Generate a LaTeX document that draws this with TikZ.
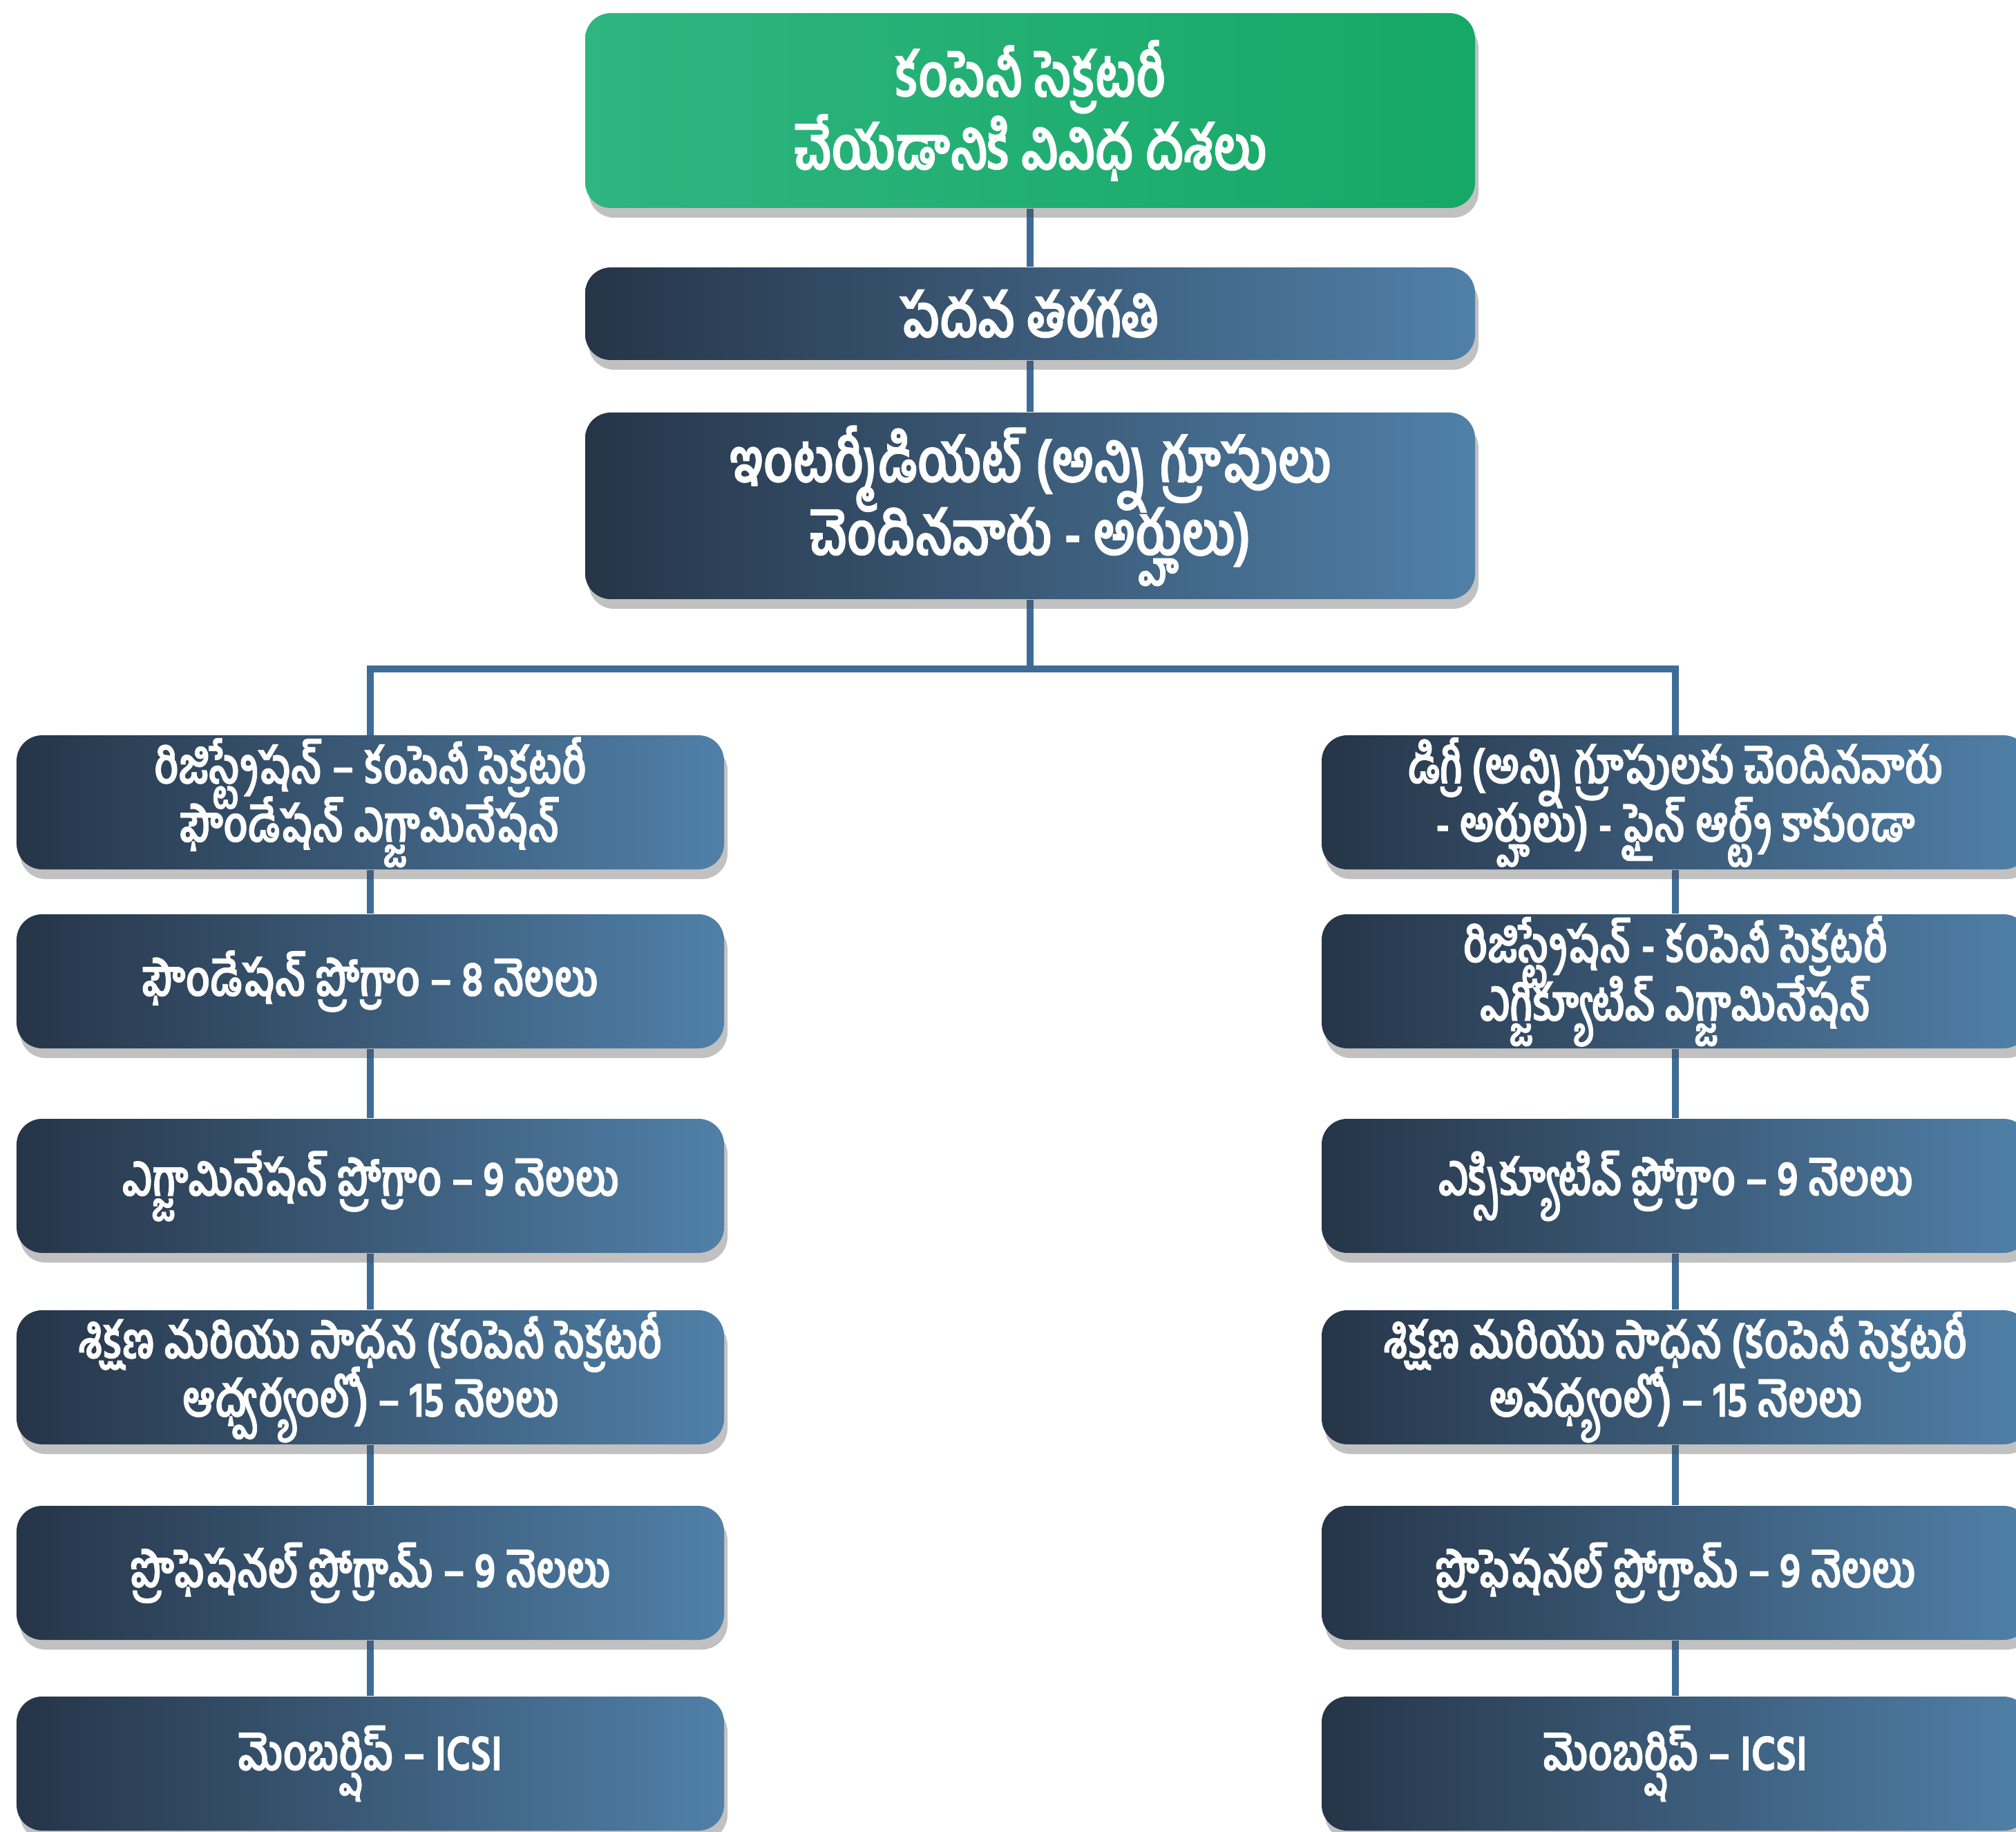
\documentclass[tikz,border=0pt]{standalone}
\usepackage{fontspec}
\newfontfamily\tefont[Script=Telugu,FakeStretch=0.8,FakeBold=1]{Hind Guntur}
\usetikzlibrary{shadows,backgrounds}

\definecolor{headL}{RGB}{46,181,128}
\definecolor{headR}{RGB}{22,168,102}
\definecolor{stageL}{RGB}{38,53,72}
\definecolor{stageR}{RGB}{80,128,168}
\definecolor{linkblue}{RGB}{62,108,150}

\newcommand\bigtext{\tefont\bfseries\fontsize{25}{30}\selectfont\lineskiplimit-100pt\relax}
\newcommand\stagetext{\tefont\bfseries\fontsize{20.5}{24}\selectfont\lineskiplimit-100pt\relax}

\tikzset{
	box/.style={rectangle, rounded corners=0.37cm, text=white, align=center, inner sep=0pt,
		drop shadow={shadow xshift=0.05cm, shadow yshift=-0.14cm, opacity=0.35, fill=black!70}},
	headbox/.style={box, left color=headL, right color=headR, minimum width=12.88cm, font=\bigtext},
	midbox/.style={box, left color=stageL, right color=stageR, minimum width=12.88cm, font=\bigtext},
	stage/.style={box, left color=stageL, right color=stageR, minimum width=10.24cm, minimum height=1.94cm,
		font=\stagetext},
	link/.style={draw=linkblue, line width=2.8pt},
}

\begin{document}
\begin{tikzpicture}
	\useasboundingbox (0,0) rectangle (29.18,-26.51);
	\clip (0,0) rectangle (29.18,-26.51);
	%top of the chart
	\node[headbox, minimum height=2.82cm] (head) at (14.91,-1.60) {కంపెనీ సెక్రటరీ\\చేయడానికి వివిధ దశలు};
	\node[midbox, minimum height=1.34cm] (tenth) at (14.91,-4.54) {పదవ తరగతి};
	\node[midbox, minimum height=2.70cm] (inter) at (14.91,-7.32) {ఇంటర్మీడియట్ (అన్ని గ్రూపులు\\చెందినవారు - అర్హులు)};
	%left branch
	\node[stage] (L1) at (5.36,-11.61) {రిజిస్ట్రేషన్ – కంపెనీ సెక్రటరీ\\ఫౌండేషన్ ఎగ్జామినేషన్};
	\node[stage] (L2) at (5.36,-14.20) {ఫౌండేషన్ ప్రోగ్రాం – 8 నెలలు};
	\node[stage] (L3) at (5.36,-17.16) {ఎగ్జామినేషన్ ప్రోగ్రాం – 9 నెలలు};
	\node[stage] (L4) at (5.36,-19.93) {శిక్షణ మరియు సాధన (కంపెనీ సెక్రటరీ\\ఆధ్వర్యంలో) – 15 నెలలు};
	\node[stage] (L5) at (5.36,-22.76) {ప్రొఫెషనల్ ప్రోగ్రామ్ – 9 నెలలు};
	\node[stage] (L6) at (5.36,-25.52) {మెంబర్షిప్ – ICSI};
	%right branch
	\node[stage] (R1) at (24.25,-11.61) {డిగ్రీ (అన్ని గ్రూపులకు చెందినవారు\\- అర్హులు) - ఫైన్ ఆర్ట్స్ కాకుండా};
	\node[stage] (R2) at (24.25,-14.20) {రిజిస్ట్రేషన్ - కంపెనీ సెక్రటరీ\\ఎగ్జిక్యూటివ్ ఎగ్జామినేషన్};
	\node[stage] (R3) at (24.25,-17.16) {ఎక్సిక్యూటివ్ ప్రోగ్రాం – 9 నెలలు};
	\node[stage] (R4) at (24.25,-19.93) {శిక్షణ మరియు సాధన (కంపెనీ సెక్రటరీ\\అవధ్యంలో) – 15 నెలలు};
	\node[stage] (R5) at (24.25,-22.76) {ప్రొఫెషనల్ ప్రోగ్రామ్ – 9 నెలలు};
	\node[stage] (R6) at (24.25,-25.52) {మెంబర్షిప్ – ICSI};
	\coordinate (fork) at (14.91,-9.68);
	\begin{scope}[on background layer]
		\draw[link] (head) -- (tenth) -- (inter) -- (fork);
		\draw[link] (L1.center) |- (fork) -| (R1.center);
		\foreach \a/\b in {L1/L2,L2/L3,L3/L4,L4/L5,L5/L6,R1/R2,R2/R3,R3/R4,R4/R5,R5/R6}
			\draw[link] (\a) -- (\b);
	\end{scope}
\end{tikzpicture}
\end{document}
